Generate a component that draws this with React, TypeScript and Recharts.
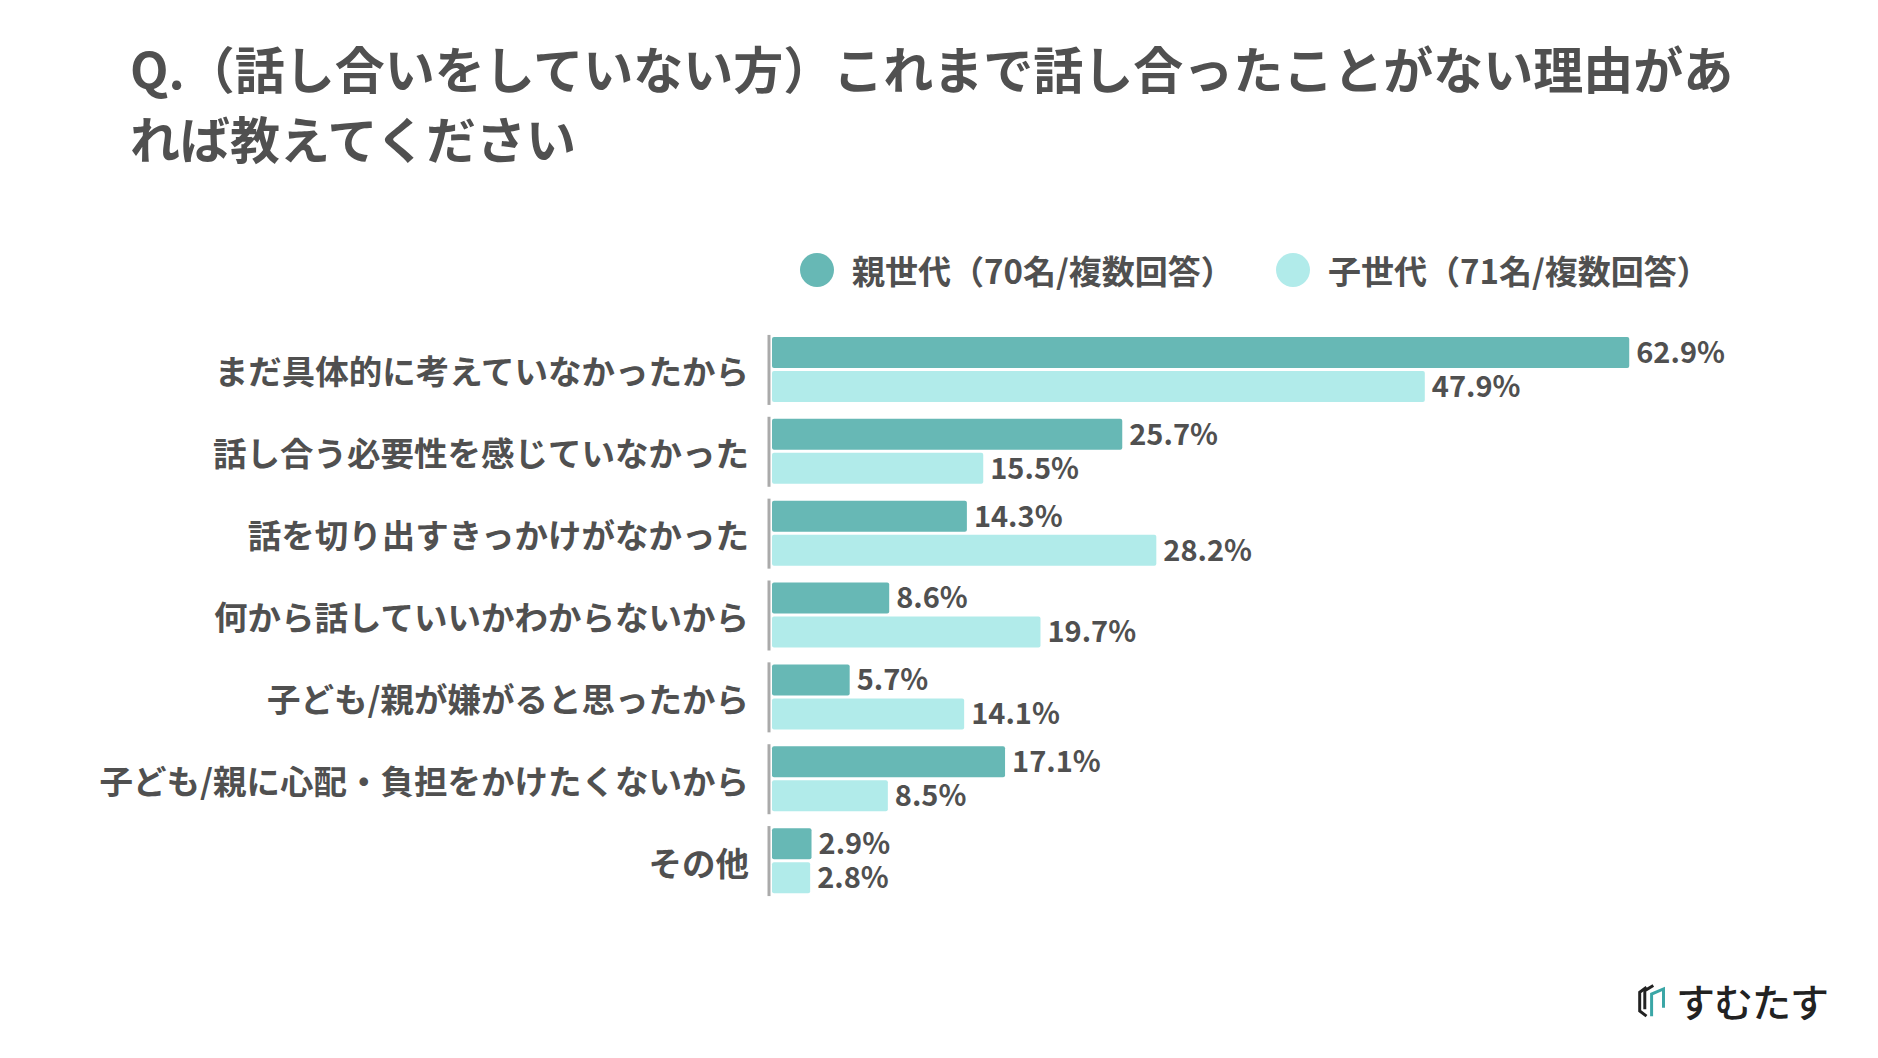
import { BarChart, Bar, XAxis, YAxis, LabelList } from "recharts";

const categories = [
  "まだ具体的に考えていなかったから",
  "話し合う必要性を感じていなかった",
  "話を切り出すきっかけがなかった",
  "何から話していいかわからないから",
  "子ども/親が嫌がると思ったから",
  "子ども/親に心配・負担をかけたくないから",
  "その他",
];
const parentValues = [62.9, 25.7, 14.3, 8.6, 5.7, 17.1, 2.9];
const childValues = [47.9, 15.5, 28.2, 19.7, 14.1, 8.5, 2.8];
const seriesNames = ["親世代（70名/複数回答）", "子世代（71名/複数回答）"];

const FONT = '"Noto Sans CJK JP", "Noto Sans", sans-serif';
const TEXT = "#505050";
const DARK = "#67b8b5";
const LIGHT = "#b1ebea";

const data = categories.map((name, i) => ({
  name,
  parent: parentValues[i],
  child: childValues[i],
}));

function CategoryTick(props: any) {
  const { y, payload } = props;
  return (
    <g>
      <line x1={769} x2={769} y1={y - 35} y2={y + 35} stroke="#aaaaaa" strokeWidth={3} />
      <text
        x={749}
        y={y}
        textAnchor="end"
        dominantBaseline="central"
        fontFamily={FONT}
        fontWeight={700}
        fontSize={33.5}
        fill={TEXT}
      >
        {payload.value}
      </text>
    </g>
  );
}

function LegendBox() {
  const colors = [DARK, LIGHT];
  const lefts = [800, 1276];
  return (
    <>
      {seriesNames.map((n, i) => (
        <div
          key={n}
          style={{
            position: "absolute",
            left: lefts[i],
            top: 246,
            height: 48,
            display: "flex",
            alignItems: "center",
            fontFamily: FONT,
            fontWeight: 700,
            fontSize: 33,
            color: TEXT,
            whiteSpace: "nowrap",
          }}
        >
          <span
            style={{ width: 34, height: 34, borderRadius: 17, background: colors[i], display: "inline-block", marginRight: 18 }}
          />
          <span>{n}</span>
        </div>
      ))}
    </>
  );
}

function Logo() {
  return (
    <div style={{ position: "absolute", left: 1638, top: 974, height: 52, display: "flex", alignItems: "center" }}>
      <svg width={34} height={38} viewBox="0 0 40 42">
        <polyline points="10,6 2,12 2,34 10,40" fill="none" stroke="#222" strokeWidth={3.5} />
        <polyline points="18,4 8,10 8,32" fill="none" stroke="#222" strokeWidth={3.5} />
        <polyline points="16,40 16,14 30,8 30,30" fill="none" stroke="#3aa6a6" strokeWidth={3.5} />
      </svg>
      <span style={{ fontFamily: FONT, fontWeight: 500, fontSize: 39, color: "#222", marginLeft: 4, letterSpacing: -1 }}>
        すむたす
      </span>
    </div>
  );
}

export default function App() {
  return (
    <div style={{ position: "absolute", left: 0, top: 0, width: 1878, height: 1058, background: "#fff", overflow: "hidden" }}>
      <div
        style={{
          position: "absolute",
          left: 130,
          top: 32,
          fontFamily: FONT,
          fontWeight: 700,
          fontSize: 50,
          lineHeight: "70px",
          color: TEXT,
          whiteSpace: "nowrap",
        }}
      >
        Q.（話し合いをしていない方）これまで話し合ったことがない理由があ
        <br />
        れば教えてください
      </div>
      <LegendBox />
      <div style={{ position: "absolute", left: 0, top: 0 }}>
        <BarChart
          width={1878}
          height={1058}
          data={data}
          layout="vertical"
          margin={{ top: 329, right: 152, bottom: 156, left: 0 }}
          barGap={3}
        >
          <XAxis type="number" domain={[0, 70]} hide />
          <YAxis
            type="category"
            dataKey="name"
            width={772}
            axisLine={false}
            tickLine={false}
            tick={<CategoryTick />}
            interval={0}
          />
          <Bar dataKey="parent" fill={DARK} barSize={31} radius={2} isAnimationActive={false}>
            <LabelList
              dataKey="parent"
              position="right"
              offset={7}
              formatter={(v: any) => `${v}%`}
              fill={TEXT}
              fontFamily={FONT}
              fontWeight={700}
              fontSize={29}
            />
          </Bar>
          <Bar dataKey="child" fill={LIGHT} barSize={31} radius={2} isAnimationActive={false}>
            <LabelList
              dataKey="child"
              position="right"
              offset={7}
              formatter={(v: any) => `${v}%`}
              fill={TEXT}
              fontFamily={FONT}
              fontWeight={700}
              fontSize={29}
            />
          </Bar>
        </BarChart>
      </div>
      <Logo />
    </div>
  );
}
